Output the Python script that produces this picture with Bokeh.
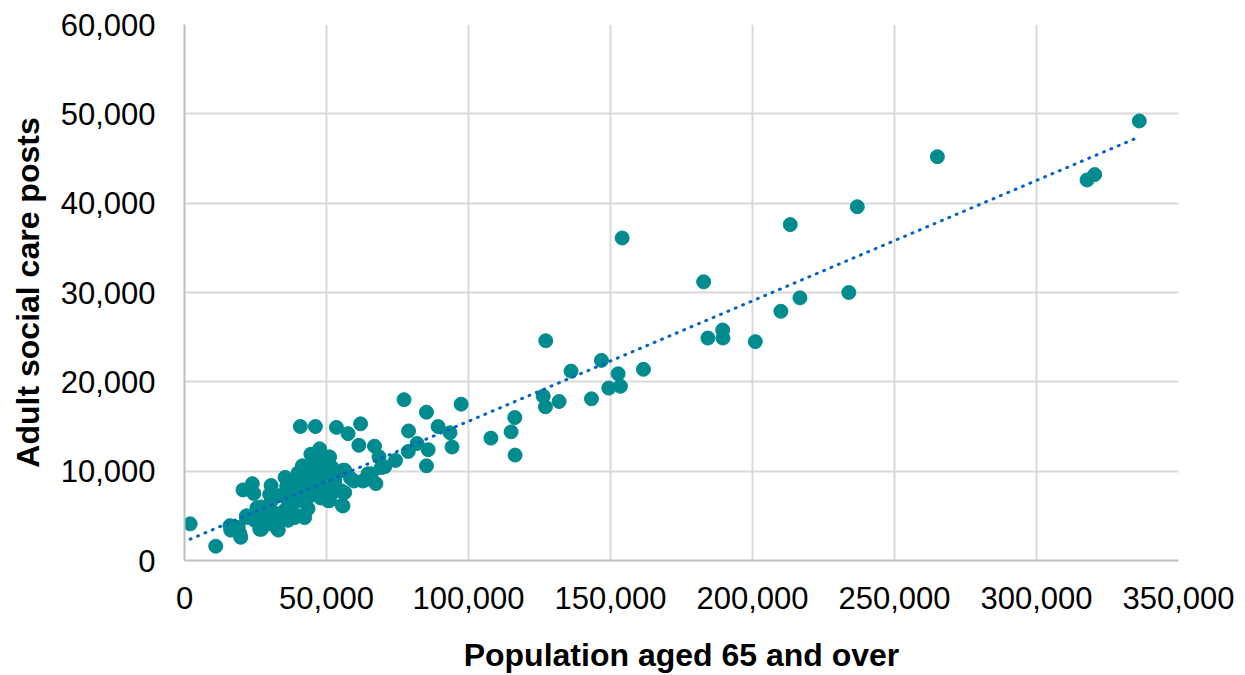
import numpy as np
from bokeh.plotting import figure
from bokeh.models import Range1d, FixedTicker, NumeralTickFormatter
from bokeh.embed import file_html
from bokeh.resources import INLINE

# Population aged 65 and over (thousands) and adult social care posts (thousands)
pop_k = [
    2.0, 11.0, 19.8, 16.3, 20.6, 23.9, 24.4, 30.5, 35.4, 40.8, 46.1, 53.5, 57.6, 62.0, 61.4,
    47.6, 51.1, 66.9, 68.5, 70.5, 74.3, 77.3, 78.9, 81.9, 78.8, 85.2, 85.2, 85.8, 89.3, 93.5,
    94.2, 97.4, 107.9, 115.0, 116.3, 116.4, 126.3, 127.1, 127.2, 131.9, 136.1, 143.3, 146.8,
    149.4, 152.7, 153.5, 154.1, 161.6, 182.8, 184.3, 189.5, 189.6, 201.0, 210.0, 213.3, 216.7,
    233.9, 236.9, 265.1, 317.8, 320.5, 336.2,
    59.7, 56.4, 62.8, 65.8, 67.4, 55.5, 56.4, 45.8, 43.5, 51.7, 52.9, 50.5, 50.5, 43.5, 38.8,
    32.4, 27.1, 24.7, 21.8, 27.1, 30.6, 34.1, 30.6, 36.5, 40.0, 42.3, 44.7, 45.8, 42.3, 37.6,
    39.4, 35.3, 33.0, 29.4, 18.9, 49.3, 54.0, 47.0,
    16.0, 19.5, 21.8, 26.5, 30.6, 33.0, 36.5, 40.0, 30.0, 55.8, 64.6, 69.3, 55.2, 55.8, 51.1,
    42.3, 48.5, 46.0, 38.0, 34.5, 28.5, 25.5, 36.0, 41.5, 44.0, 48.0, 53.0, 58.5, 63.5,
    41.5, 44.5, 48.5, 40.0, 37.0,
]
posts_k = [
    4.1, 1.6, 2.6, 3.4, 7.9, 8.6, 7.5, 8.4, 9.3, 15.0, 15.0, 14.9, 14.2, 15.3, 12.9,
    12.5, 11.6, 12.8, 11.6, 10.5, 11.2, 18.0, 14.5, 13.1, 12.2, 16.6, 10.6, 12.4, 15.0, 14.3,
    12.7, 17.5, 13.7, 14.4, 16.0, 11.8, 18.4, 17.2, 24.6, 17.8, 21.2, 18.1, 22.4,
    19.3, 20.9, 19.5, 36.1, 21.4, 31.2, 24.9, 25.8, 24.9, 24.5, 27.9, 37.6, 29.4,
    30.0, 39.6, 45.2, 42.6, 43.2, 49.2,
    8.9, 10.1, 8.9, 9.7, 8.6, 6.2, 7.6, 11.0, 10.1, 10.5, 8.9, 7.1, 6.7, 5.8, 4.8,
    3.7, 3.5, 4.5, 5.0, 6.0, 6.7, 7.3, 5.6, 6.1, 6.7, 7.8, 8.9, 10.4, 9.3, 7.8,
    8.8, 5.6, 5.2, 4.3, 3.7, 8.2, 7.8, 8.6,
    3.9, 3.0, 4.8, 3.5, 4.1, 3.4, 4.5, 5.0, 7.4, 10.1, 9.7, 10.4, 7.8, 6.1, 6.7,
    4.8, 9.6, 7.4, 6.4, 4.9, 5.3, 5.9, 8.3, 6.9, 7.2, 7.0, 9.4, 9.2, 9.0,
    10.6, 11.9, 11.2, 9.8, 9.0,
]

x_ticks = [0, 50000, 100000, 150000, 200000, 250000, 300000, 350000]
y_ticks = [0, 10000, 20000, 30000, 40000, 50000, 60000]

x = np.array(pop_k) * 1000
y = np.array(posts_k) * 1000

# Linear trendline (least squares) across the data extent
slope, intercept = np.polyfit(x, y, 1)
tx = np.array([x.min(), x.max()])
ty = intercept + slope * tx

W, H = 1245, 675
p = figure(width=W, height=H, output_backend="svg", toolbar_location=None,
           x_range=Range1d(0, 350000), y_range=Range1d(0, 60000),
           min_border_left=184, min_border_right=67, min_border_top=24, min_border_bottom=115)
p.outline_line_color = None
p.background_fill_color = "white"
p.border_fill_color = "white"

p.scatter(x, y, size=14, color="#008C8F", line_color="#008C8F")
p.line(tx, ty, line_color="#0563C1", line_width=3, line_dash="1 7", line_cap="round")

for ax in (p.xaxis, p.yaxis):
    ax.major_tick_line_color = None
    ax.minor_tick_line_color = None
    ax.major_tick_in = 0
    ax.major_tick_out = 0
    ax.axis_line_color = "#BFBFBF"
    ax.axis_line_width = 2
    ax.major_label_text_font = "Liberation Sans"
    ax.major_label_text_font_size = "31px"
    ax.major_label_text_color = "#000000"
    ax.axis_label_text_font = "Liberation Sans"
    ax.axis_label_text_font_size = "32px"
    ax.axis_label_text_font_style = "bold"
    ax.axis_label_text_color = "#000000"
    ax.formatter = NumeralTickFormatter(format="0,0")

p.xaxis.ticker = FixedTicker(ticks=x_ticks)
p.yaxis.ticker = FixedTicker(ticks=y_ticks)
p.xaxis.axis_label = "Population aged 65 and over"
p.yaxis.axis_label = "Adult social care posts"
p.xaxis.major_label_standoff = 26
p.yaxis.major_label_standoff = 29
p.xaxis.axis_label_standoff = 25
p.yaxis.axis_label_standoff = 12

p.xgrid.ticker = FixedTicker(ticks=x_ticks)
p.ygrid.ticker = FixedTicker(ticks=y_ticks)
for g in (p.xgrid, p.ygrid):
    g.grid_line_color = "#D9D9D9"
    g.grid_line_width = 2

open("out.html", "w").write(file_html(p, INLINE))
